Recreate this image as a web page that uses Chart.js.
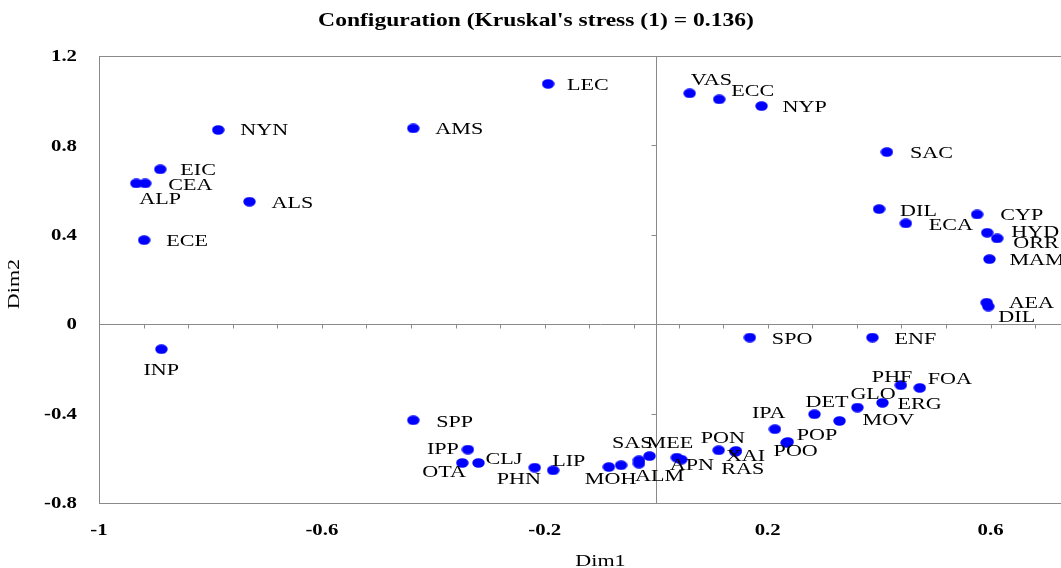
<!DOCTYPE html>
<html>
<head>
<meta charset="utf-8">
<script src="https://cdn.jsdelivr.net/npm/chart.js@4"></script>
<style>
html,body{margin:0;padding:0;background:#fff;overflow:hidden;width:1061px;height:568px;}
canvas{display:block;}
</style>
</head>
<body>
<canvas id="c" width="1110" height="568" style="width:1110px;height:568px"></canvas>
<script>
// ---- data ----
const names = ["NYN","EIC","CEA","ALP","ALS","ECE","INP","AMS","LEC",
  "VAS","ECC","NYP","SAC","DIL","ECA","CYP","HYD","ORR","MAM","AEA","DIL",
  "SPO","ENF","PHF","FOA","ERG","GLO","DET","MOV","IPA","POP","POO","PON","XAI","RAS",
  "APN","","MEE","SAS","ALM","","MOH","LIP","PHN","CLJ","OTA","IPP","SPP"];
const dim1 = [-0.786,-0.890,-0.917,-0.933,-0.730,-0.919,-0.888,-0.436,-0.194,
  0.060,0.113,0.189,0.414,0.400,0.448,0.576,0.594,0.612,0.598,0.593,0.596,
  0.168,0.388,0.439,0.473,0.406,0.361,0.284,0.329,0.213,0.236,0.234,0.112,0.143,0.142,
  0.037,0.045,-0.012,-0.031,-0.031,-0.063,-0.085,-0.185,-0.218,-0.319,-0.348,-0.338,-0.436];
const dim2 = [0.869,0.693,0.630,0.630,0.548,0.376,-0.112,0.876,1.075,
  1.033,1.006,0.976,0.770,0.515,0.451,0.491,0.409,0.384,0.291,0.096,0.079,
  -0.060,-0.060,-0.273,-0.285,-0.352,-0.373,-0.403,-0.433,-0.470,-0.527,-0.531,-0.564,-0.567,-0.571,
  -0.597,-0.606,-0.590,-0.609,-0.624,-0.631,-0.639,-0.654,-0.642,-0.621,-0.621,-0.561,-0.430];
const xTickValues = [-1,-0.6,-0.2,0.2,0.6];
const xTickLabels = ["-1","-0.6","-0.2","0.2","0.6"];
const yTickValues = [1.2,0.8,0.4,0,-0.4,-0.8];
const yTickLabels = ["1.2","0.8","0.4","0","-0.4","-0.8"];
const titleText = "Configuration (Kruskal's stress (1) = 0.136)";
const xTitle = "Dim1", yTitle = "Dim2";

// ---- label placement (style: offsets of label left edge / centre from the dot, px) ----
const labelOffsets = [[22,1],[20,1],[23,2],[3,16],[22,2],[22,1],[-18,21],[22,1],[19,2],
  [1,-13],[12,-8],[21,1],[23,1],[21,2],[23,2],[23,1],[24,0],[16,5],[20,1],[22,1],[10,11],
  [22,2],[22,2],[-29,-8],[8,-8],[15,2],[-7,-13],[-9,-12],[23,0],[-23,-16],[9,-6],[-13,9],[-18,-12],[-10,6],[-14,18],
  [-7,8],[0,0],[-3,-13],[-27,-17],[-4,13],[0,0],[-24,13],[-1,-9],[-38,12],[7,-3],[-40,10],[-41,0],[23,2]];

const STRETCH = 1.3;
const SERIF = '"Liberation Serif","Times New Roman",serif';
const GRAY = '#8a8a8a';
const MINOR_STEP = 0.08;

// ellipse marker
const dot = document.createElement('canvas');
dot.width = 13; dot.height = 10;
(function(){const g=dot.getContext('2d');g.fillStyle='#0000ff';g.beginPath();g.ellipse(6.5,5,6.2,4.8,0,0,Math.PI*2);g.fill();})();

function drawText(ctx, text, x, y, align, font, sx, color){
  ctx.save();
  ctx.font = font; ctx.textBaseline = 'middle'; ctx.textAlign = 'left';
  ctx.fillStyle = color || '#000';
  const w = ctx.measureText(text).width * sx;
  const left = align === 'left' ? x : (align === 'right' ? x - w : x - w/2);
  ctx.translate(left, y); ctx.scale(sx, 1);
  ctx.fillText(text, 0, 0);
  ctx.restore();
}

const framePlugin = {
  id:'frame',
  beforeDatasetsDraw(chart){
    const {ctx, chartArea:a, scales:{x, y}} = chart;
    ctx.save();
    ctx.strokeStyle = GRAY; ctx.lineWidth = 1;
    ctx.strokeRect(Math.round(a.left)+0.5, Math.round(a.top)+0.5, Math.round(a.right-a.left), Math.round(a.bottom-a.top));
    const x0 = Math.round(x.getPixelForValue(0))+0.5;
    const y0 = Math.round(y.getPixelForValue(0))+0.5;
    ctx.beginPath();
    ctx.moveTo(x0, a.top); ctx.lineTo(x0, a.bottom);
    ctx.moveTo(a.left, y0); ctx.lineTo(a.right, y0);
    for (let v = x.min; v <= x.max + 1e-9; v += MINOR_STEP){
      const px = Math.round(x.getPixelForValue(v))+0.5;
      ctx.moveTo(px, y0); ctx.lineTo(px, y0+4);
    }
    yTickValues.forEach(v=>{
      const py = Math.round(y.getPixelForValue(v))+0.5;
      ctx.moveTo(x0-5, py); ctx.lineTo(x0, py);
    });
    ctx.stroke();
    ctx.restore();
  },
  afterDatasetsDraw(chart){
    const {ctx, chartArea:a, scales:{x, y}} = chart;
    const meta = chart.getDatasetMeta(0);
    meta.data.forEach((pt, i)=>{
      if(!names[i]) return;
      const o = labelOffsets[i];
      drawText(ctx, names[i], pt.x + o[0], pt.y + o[1], 'left', '17px '+SERIF, STRETCH);
    });
    xTickValues.forEach((v,i)=>{
      drawText(ctx, xTickLabels[i], x.getPixelForValue(v), 531, 'center', 'bold 16px '+SERIF, STRETCH);
    });
    yTickValues.forEach((v,i)=>{
      drawText(ctx, yTickLabels[i], 77, y.getPixelForValue(v)+1, 'right', 'bold 16px '+SERIF, STRETCH);
    });
    drawText(ctx, titleText, 536, 21, 'center', 'bold 19px '+SERIF, 1.24);
    drawText(ctx, xTitle, (a.left+a.right)/2, 562, 'center', '17px '+SERIF, STRETCH);
    ctx.save();
    ctx.translate(15, 284); ctx.rotate(-Math.PI/2);
    drawText(ctx, yTitle, 0, 0, 'center', '17px '+SERIF, STRETCH);
    ctx.restore();
  }
};

new Chart(document.getElementById('c'), {
  type:'scatter',
  data:{datasets:[{
    data: dim1.map((v,i)=>({x:v, y:dim2[i]})),
    pointStyle: dot, pointRadius: 6, backgroundColor:'#0000ff', borderWidth:0
  }]},
  options:{
    responsive:false, animation:false, devicePixelRatio:1,
    layout:{padding:{left:99, top:56, right:8, bottom:65}},
    scales:{
      x:{type:'linear', min:-1, max:0.8, display:false},
      y:{type:'linear', min:-0.8, max:1.2, display:false}
    },
    plugins:{legend:{display:false}, tooltip:{enabled:false}, title:{display:false}}
  },
  plugins:[framePlugin]
});
</script>
</body>
</html>
